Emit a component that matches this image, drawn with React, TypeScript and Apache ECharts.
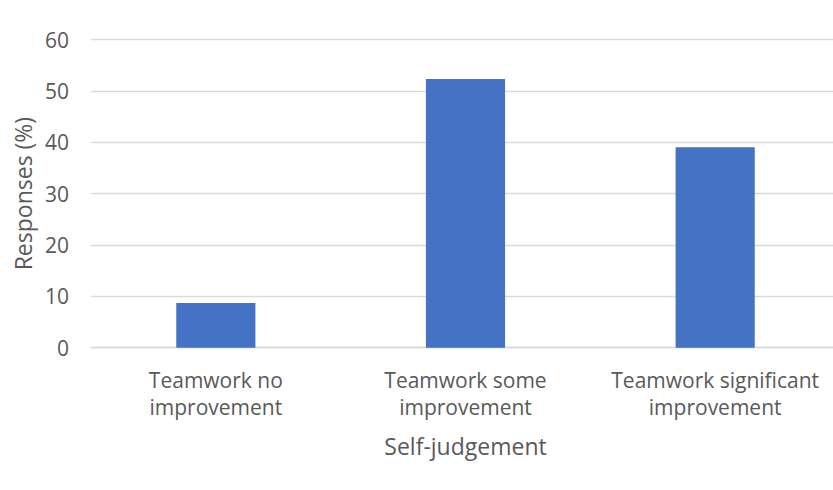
import React, { useEffect, useRef } from "react";
import * as echarts from "echarts";

const categories = [
  "Teamwork no\nimprovement",
  "Teamwork some\nimprovement",
  "Teamwork significant\nimprovement",
];
const responses = [8.7, 52.3, 39.0];
const yTicks = { min: 0, max: 60, interval: 10 };

export default function App() {
  const ref = useRef<HTMLDivElement>(null);
  useEffect(() => {
    if (!ref.current) return;
    const chart = echarts.init(ref.current, undefined, { renderer: "svg" });
    const font = "'Open Sans', 'Noto Sans', sans-serif";
    chart.setOption({
      animation: false,
      backgroundColor: "#ffffff",
      grid: {
        left: 91,
        width: 749,
        top: 39.5,
        height: 308.2,
        containLabel: false,
        outerBoundsMode: "none",
      },
      xAxis: {
        type: "category",
        data: categories,
        name: "Self-judgement",
        nameLocation: "middle",
        nameGap: 87,
        nameTextStyle: { color: "#595959", fontSize: 23, fontFamily: font },
        axisLine: { show: true, lineStyle: { color: "#d9d9d9", width: 1.3 } },
        axisTick: { show: false },
        axisLabel: {
          color: "#595959",
          fontSize: 21,
          fontFamily: font,
          lineHeight: 27,
          margin: 19,
          interval: 0,
        },
      },
      yAxis: {
        type: "value",
        min: yTicks.min,
        max: yTicks.max,
        interval: yTicks.interval,
        name: "Responses (%)",
        nameLocation: "middle",
        nameGap: 54,
        nameRotate: 90,
        nameTextStyle: { color: "#595959", fontSize: 23, fontFamily: font },
        axisLine: { show: false },
        axisTick: { show: false },
        axisLabel: { color: "#595959", fontSize: 21, fontFamily: font, margin: 22 },
        splitLine: { lineStyle: { color: "#d9d9d9", width: 1.3 } },
      },
      series: [
        {
          type: "bar",
          data: responses,
          barCategoryGap: "68.3%",
          itemStyle: { color: "#4472C4" },
        },
      ],
    });
    return () => chart.dispose();
  }, []);
  return (
    <div
      ref={ref}
      style={{ position: "fixed", left: 0, top: 0, width: 833, height: 490 }}
    />
  );
}
